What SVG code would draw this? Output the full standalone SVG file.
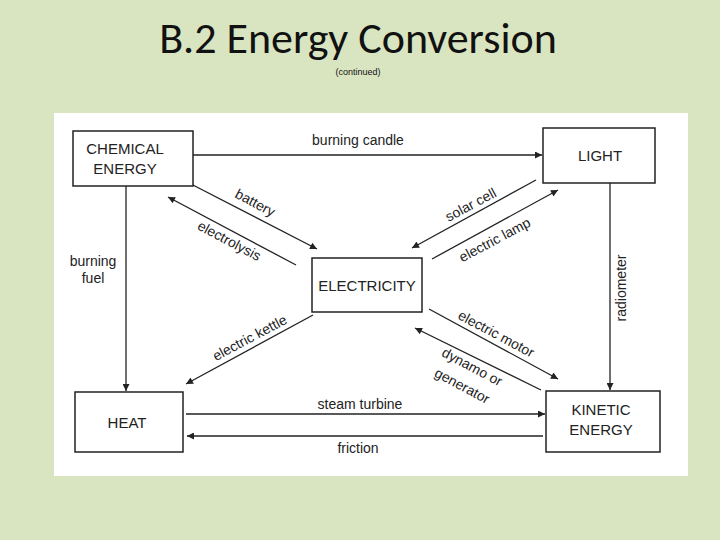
<svg xmlns="http://www.w3.org/2000/svg" width="720" height="540" viewBox="0 0 720 540">
<style>
.box{fill:#fff;stroke:#222;stroke-width:1.5}
.nt{font-family:"Liberation Sans",Arial,sans-serif;font-size:15px;fill:#222;text-anchor:middle}
.lb{font-family:"Liberation Sans",Arial,sans-serif;font-size:14px;fill:#222;text-anchor:middle}
.ln{stroke:#222;stroke-width:1.3;fill:none;marker-end:url(#ah)}
</style>
<defs><marker id="ah" viewBox="0 0 10 10" refX="10" refY="5" markerWidth="9" markerHeight="7" markerUnits="userSpaceOnUse" orient="auto"><path d="M0,0 L10,5 L0,10 z" fill="#222"/></marker></defs>
<rect width="720" height="540" fill="#d9e5c1"/>
<text x="358" y="53" font-family="Calibri,'Liberation Sans',sans-serif" font-size="44" text-anchor="middle" fill="#111">B.2 Energy Conversion</text>
<text x="358" y="75" font-family="'Liberation Sans',sans-serif" font-size="9" text-anchor="middle" fill="#111">(continued)</text>
<rect x="54" y="113" width="634" height="363" fill="#fff"/>
<g id="connectors">
<line class="ln" x1="193" y1="155" x2="542" y2="155"/>
<line class="ln" x1="126" y1="186" x2="126" y2="391"/>
<line class="ln" x1="610" y1="183" x2="610" y2="390"/>
<line class="ln" x1="186" y1="414" x2="545" y2="414"/>
<line class="ln" x1="543" y1="436" x2="187" y2="436"/>
<line class="ln" x1="189" y1="183" x2="317" y2="249"/>
<line class="ln" x1="296" y1="265" x2="168" y2="197"/>
<line class="ln" x1="536" y1="180" x2="412" y2="248"/>
<line class="ln" x1="432" y1="259" x2="558" y2="190"/>
<line class="ln" x1="313" y1="315" x2="186" y2="384"/>
<line class="ln" x1="429" y1="309" x2="558" y2="379"/>
<line class="ln" x1="541" y1="390" x2="415" y2="328"/>
<text class="lb" x="358" y="145">burning candle</text>
<text class="lb" x="93" y="266">burning</text>
<text class="lb" x="93" y="283">fuel</text>
<text class="lb" transform="translate(626,288) rotate(-90)">radiometer</text>
<text class="lb" x="360" y="409">steam turbine</text>
<text class="lb" x="358" y="453">friction</text>
<text class="lb" transform="translate(253,207) rotate(28)">battery</text>
<text class="lb" transform="translate(227,245) rotate(28)">electrolysis</text>
<text class="lb" transform="translate(473,209) rotate(-28)">solar cell</text>
<text class="lb" transform="translate(497,244) rotate(-28)">electric lamp</text>
<text class="lb" transform="translate(252,342) rotate(-28)">electric kettle</text>
<text class="lb" transform="translate(494,338) rotate(28)">electric motor</text>
<text class="lb" transform="translate(470,371) rotate(28)">dynamo or</text>
<text class="lb" transform="translate(460,390) rotate(28)">generator</text>
</g>
<g id="chemical"><rect class="box" x="73" y="131" width="120" height="55"/><text class="nt" x="125" y="154">CHEMICAL</text><text class="nt" x="125" y="174">ENERGY</text></g>
<g id="light"><rect class="box" x="543" y="128" width="112" height="55"/><text class="nt" x="600" y="161">LIGHT</text></g>
<g id="electricity"><rect class="box" x="312" y="258" width="110" height="54"/><text class="nt" x="367" y="291">ELECTRICITY</text></g>
<g id="heat"><rect class="box" x="75" y="392" width="108" height="60"/><text class="nt" x="127" y="428">HEAT</text></g>
<g id="kinetic"><rect class="box" x="546" y="391" width="114" height="61"/><text class="nt" x="601" y="415">KINETIC</text><text class="nt" x="601" y="435">ENERGY</text></g>
</svg>
